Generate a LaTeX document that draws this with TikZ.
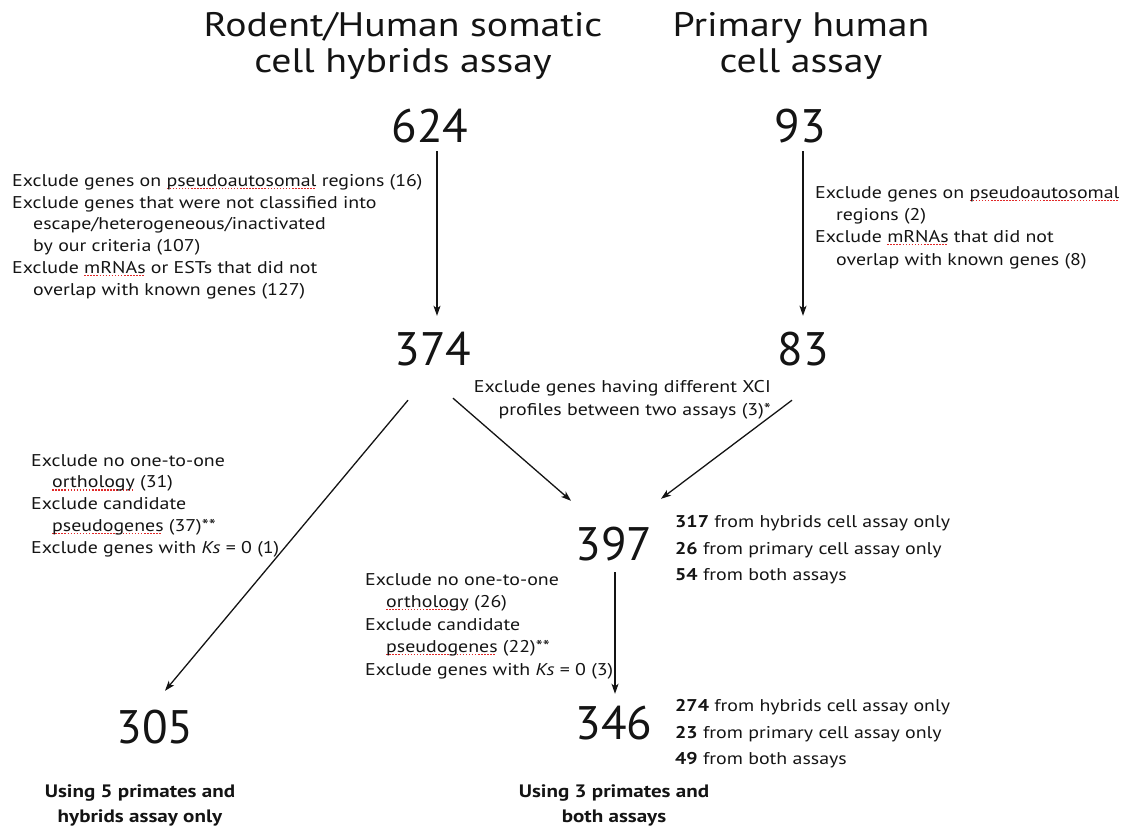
\documentclass[tikz,border=0pt]{standalone}
\usepackage{fontspec}
\setmainfont{PT Sans}[FakeStretch=1.17]
\newfontfamily\chiffres{PT Sans}
\usetikzlibrary{positioning,arrows.meta}
\definecolor{figNoir}{RGB}{20,20,20}
\definecolor{figRouge}{RGB}{225,40,40}
\newcommand\squig[1]{\setbox0\hbox{#1}\rlap{\raisebox{-0.32ex}{\color{figRouge}\leaders\hbox{\rule{0.09em}{0.07em}\kern0.09em}\hskip\wd0}}\copy0\relax}
\newcommand\retrait{\hspace*{21pt}}

\begin{document}
\begin{tikzpicture}[
  x=1pt, y=-1pt, every node/.style={inner sep=0pt, text=figNoir},
  titre/.style={font=\fontsize{34}{36}\selectfont, align=center, anchor=north},
  nombre/.style={font=\chiffres\fontsize{47}{50}\selectfont},
  note/.style={font=\fontsize{17}{21.8}\selectfont, align=left, anchor=north west},
  detail/.style={font=\fontsize{17}{26.7}\selectfont, align=left, anchor=north west},
  bilan/.style={font=\bfseries\fontsize{18}{25}\selectfont, align=center, anchor=north},
  fl/.style={-{Stealth[length=10pt,width=7pt,inset=2.5pt]}, line width=1.3pt, figNoir}
]
\useasboundingbox (0,0) rectangle (1139,829);

\node[titre] (tHyb)  at (403,12) {Rodent/Human somatic\\cell hybrids assay};
\node[titre] (tPrim) at (801,12) {Primary human\\cell assay};

\node[nombre] (n624) at (430,126) {624};
\node[nombre] (n93)  at (800,126) {93};
\node[nombre] (n374) at (433,349) {374};
\node[nombre] (n83)  at (803,349) {83};
\node[nombre] (n397) at (614,544) {397};
\node[nombre] (n305) at (155,727) {305};
\node[nombre] (n346) at (614,723) {346};

% Criteres d'exclusion, un bloc par etape.
\node[note] (exHyb) at (12,174) {Exclude genes on \squig{pseudoautosomal} regions (16)\\
  Exclude genes that were not classified into\\
  \retrait escape/heterogeneous/inactivated\\
  \retrait by our criteria (107)\\
  Exclude \squig{mRNAs} or ESTs that did not\\
  \retrait overlap with known genes (127)};
\node[note, font=\fontsize{17}{22.3}\selectfont] (exPrim) at (815,186) {Exclude genes on \squig{pseudoautosomal}\\
  \retrait regions (2)\\
  Exclude \squig{mRNAs} that did not\\
  \retrait overlap with known genes (8)};
\node[note, align=right, anchor=north east, font=\fontsize{17}{23.5}\selectfont] (exXci) at (771,380) {Exclude genes having different XCI\\
  profiles between two assays (3)*};
\node[note] (exCinq) at (31,454) {Exclude no one-to-one\\
  \retrait\squig{orthology} (31)\\
  Exclude candidate\\
  \retrait\squig{pseudogenes} (37)**\\
  Exclude genes with \textit{Ks} = 0 (1)};
\node[note, font=\fontsize{17}{22.5}\selectfont] (exTrois) at (365,573) {Exclude no one-to-one\\
  \retrait\squig{orthology} (26)\\
  Exclude candidate\\
  \retrait\squig{pseudogenes} (22)**\\
  Exclude genes with \textit{Ks} = 0 (3)};

\node[detail] (d397) at (675,515) {\textbf{317} from hybrids cell assay only\\
  \textbf{26} from primary cell assay only\\
  \textbf{54} from both assays};
\node[detail] (d346) at (675,699) {\textbf{274} from hybrids cell assay only\\
  \textbf{23} from primary cell assay only\\
  \textbf{49} from both assays};

\node[bilan] (bCinq)  at (140,784) {Using 5 primates and\\hybrids assay only};
\node[bilan] (bTrois) at (614,784) {Using 3 primates and\\both assays};

\draw[fl] ([xshift=7pt,yshift=-8pt]n624.south) -- ([xshift=4pt,yshift=16pt]n374.north);
\draw[fl] ([xshift=3pt,yshift=-8pt]n93.south) -- ([yshift=16pt]n83.north);
\draw[fl] ([xshift=-25pt,yshift=-34pt]n374.south) -- ([xshift=10pt,yshift=19pt]n305.north);
\draw[fl] ([xshift=20pt,yshift=-32pt]n374.south) -- ([xshift=-43pt,yshift=26pt]n397.north);
\draw[fl] ([xshift=-11pt,yshift=-34pt]n83.south) -- ([xshift=47pt,yshift=28pt]n397.north);
\draw[fl] ([xshift=1pt,yshift=-11pt]n397.south) -- ([xshift=1pt,yshift=12pt]n346.north);
\end{tikzpicture}
\end{document}
